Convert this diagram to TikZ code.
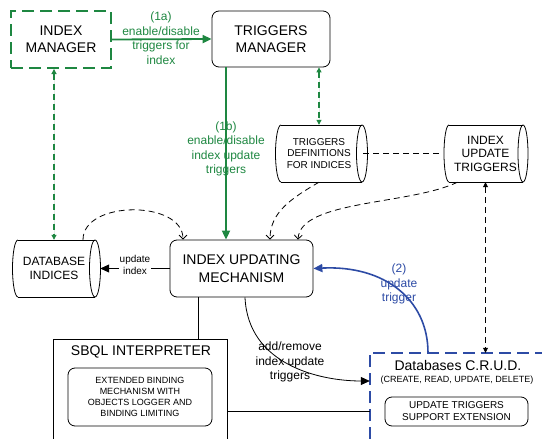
\documentclass[tikz,border=0pt]{standalone}
\usepackage{fontspec}
\setmainfont{Liberation Sans}
\usetikzlibrary{arrows.meta}
\definecolor{mygreen}{RGB}{30,135,65}
\definecolor{myblue}{RGB}{45,75,165}
\newcommand\cylout[5]{%
  \draw[cylline] (#1,#3) -- (#2,#3) (#1,#4) -- (#2,#4);
  \draw[cylline] (#2,{(#3+#4)/2}) ellipse[x radius=#5,y radius={(#4-#3)/2}];
  \draw[cylline] (#1,#3) arc[start angle=-90,end angle=-270,x radius=#5,y radius={(#4-#3)/2}];
}
\begin{document}
\begin{tikzpicture}[x=1pt,y=-1pt,
  cylline/.style={draw=black,line width=0.8pt},
  box/.style={draw=black,line width=0.8pt,rounded corners=7pt,align=center,inner sep=0pt},
  ghost/.style={inner sep=0pt,align=center},
  big/.style={font=\fontsize{14}{17}\selectfont},
  glbl/.style={align=center,inner sep=0pt,text=mygreen,font=\fontsize{12}{14.5}\selectfont},
  blbl/.style={align=center,inner sep=0pt,text=myblue,font=\fontsize{12}{14.5}\selectfont},
  dsh/.style={line width=0.8pt,dash pattern=on 6pt off 4pt},
  gdsh/.style={draw=mygreen,line width=1.1pt,dash pattern=on 6pt off 4pt},
  openarr/.style={-{Straight Barb[length=4pt,width=8pt]}},
  smallboth/.style={{Triangle[length=5pt,width=5pt]}-{Triangle[length=5pt,width=5pt]}},
  bigarr/.style={-{Triangle[length=9pt,width=8pt]}},
]
\useasboundingbox (0,0) rectangle (542,439);

% boxes
\node[draw=mygreen,line width=2pt,dash pattern=on 12pt off 6pt,minimum width=100pt,minimum height=57pt,align=center,inner sep=0pt,big] (im) at (61,39.5) {INDEX\\MANAGER};
\node[box,minimum width=118pt,minimum height=56pt,big] (tm) at (271,39) {TRIGGERS\\MANAGER};
\node[box,minimum width=143pt,minimum height=57pt,font=\fontsize{14}{18}\selectfont] (ium) at (241.5,268.5) {INDEX UPDATING\\MECHANISM};

% cylinders
\node[ghost,minimum width=92pt,minimum height=57pt,font=\fontsize{12}{14}\selectfont] (db) at (54,268.5) {DATABASE\\INDICES};
\cylout{18}{95}{240}{297}{5.5}
\node[ghost,minimum width=98pt,minimum height=57pt,font=\fontsize{10}{11.5}\selectfont] (tdfi) at (319,153.5) {TRIGGERS\\DEFINITIONS\\FOR INDICES};
\cylout{281}{362}{125}{182}{5.5}
\node[ghost,minimum width=85pt,minimum height=57pt,font=\fontsize{12}{13.5}\selectfont] (iut) at (485.5,153.5) {INDEX\\UPDATE\\TRIGGERS};
\cylout{449}{523}{125}{182}{5}

% SBQL
\node[ghost,minimum width=173pt,minimum height=99pt] (sbql) at (140.5,389.5) {};
\draw[line width=0.8pt] (sbql.south west) -- (sbql.north west) -- (sbql.north east) -- (sbql.south east);
\node[ghost,big] (sbqlt) at (141,352) {SBQL INTERPRETER};
\node[box,minimum width=144pt,minimum height=58pt,font=\fontsize{9}{11}\selectfont] (ebm) at (140,397) {EXTENDED BINDING\\MECHANISM WITH\\OBJECTS LOGGER AND\\BINDING LIMITING};

% CRUD
\node[ghost,minimum width=172pt,minimum height=86pt] (crud) at (456,396) {};
\draw[draw=myblue,line width=2pt,dash pattern=on 12pt off 6pt] (crud.south west) -- (crud.north west) -- (crud.north east);
\node[ghost,font=\fontsize{14}{17}\selectfont] (crudt) at (458,365) {Databases C.R.U.D.};
\node[ghost,font=\fontsize{9}{11}\selectfont] (cruds) at (457,380) {(CREATE, READ, UPDATE, DELETE)};
\node[box,minimum width=143pt,minimum height=29pt,font=\fontsize{10}{12}\selectfont] (utse) at (456.5,411.5) {UPDATE TRIGGERS\\SUPPORT EXTENSION};

% green connectors
\draw[draw=mygreen,line width=1.8pt,bigarr] (im.east) -- (tm.west);
\node[glbl] (l1a) at (161,38) {(1a)\\enable/disable\\triggers for\\index};
\draw[draw=mygreen,line width=1.8pt,bigarr] ([xshift=-45pt]tm.south) -- ([xshift=-15.5pt]ium.north);
\node[glbl] (l1b) at (226,149) {(1b)\\enable/disable\\index update\\triggers};
\draw[gdsh,{Triangle[length=5pt,width=5pt]}-{Triangle[length=5pt,width=5pt]},fill=mygreen] ([xshift=48pt]tm.south) -- (tdfi.north);
\draw[gdsh,{Triangle[length=5pt,width=5pt]}-{Triangle[length=5pt,width=5pt]},fill=mygreen] ([xshift=-7pt]im.south) -- (db.north);

% black connectors
\draw[dsh] (tdfi.east) ++(-5pt,0) -- (iut.west);
\draw[dsh,smallboth] (iut.south) -- ([xshift=29.5pt]crud.north);
\draw[dsh,openarr] ([xshift=29pt]db.north) .. controls (83,200) and (183,200) .. ([xshift=-58.5pt]ium.north);
\draw[dsh,openarr] (tdfi.south) .. controls (292,198) and (270,212) .. ([xshift=28.5pt]ium.north);
\draw[dsh,openarr] ([xshift=-28pt]iut.south) .. controls (410,205) and (300,200) .. ([xshift=56.5pt]ium.north);

\draw[line width=0.8pt,bigarr] (ium.west) -- (db.east);
\node[ghost,fill=white,inner sep=1pt,font=\fontsize{10}{12}\selectfont] (lui) at (135,265) {update\\index};

\draw[line width=0.8pt] ([xshift=-43.5pt]ium.south) -- ([xshift=-43.5pt]ium.south |- sbql.north);
\draw[line width=0.8pt] ([yshift=-21.5pt]sbql.east) -- ([yshift=-21.5pt]sbql.east -| crud.west);
\draw[line width=0.8pt,bigarr] ([xshift=3.5pt]ium.south) .. controls (248,365) and (320,381) .. ([yshift=15pt]crud.west);
\node[ghost,font=\fontsize{12}{14.5}\selectfont] (lar) at (290,362) {add/remove\\index update\\triggers};

% blue connector
\draw[draw=myblue,line width=1.6pt,bigarr] ([xshift=-28pt]crud.north) .. controls (428,300) and (385,265) .. (ium.east);
\node[blbl] (l2) at (399,284) {(2)\\update\\trigger};
\end{tikzpicture}
\end{document}
